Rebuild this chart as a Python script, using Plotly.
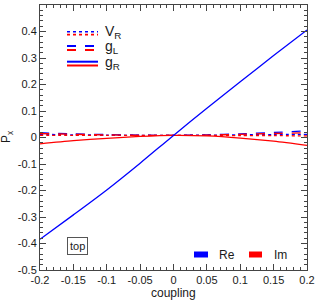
import plotly.graph_objects as go

coupling = [-0.2, -0.15, -0.1, -0.05, 0.0, 0.05, 0.1, 0.15, 0.2]
gR_re = [-0.384, -0.292, -0.198, -0.097, 0.008, 0.110, 0.210, 0.309, 0.406]
gR_im = [-0.024, -0.012, -0.003, 0.004, 0.008, 0.006, -0.002, -0.014, -0.030]
gL_re = [0.018, 0.014, 0.011, 0.009, 0.008, 0.010, 0.014, 0.019, 0.025]
gL_im = [0.015, 0.012, 0.010, 0.008, 0.008, 0.009, 0.012, 0.015, 0.018]
VR_re = [0.012, 0.010, 0.009, 0.008, 0.008, 0.009, 0.010, 0.011, 0.012]
VR_im = [0.008, 0.008, 0.008, 0.008, 0.008, 0.008, 0.007, 0.007, 0.006]

x_ticks = [-0.2, -0.15, -0.1, -0.05, 0, 0.05, 0.1, 0.15, 0.2]
x_labels = ["-0.2", "-0.15", "-0.1", "-0.05", "0", "0.05", "0.1", "0.15", "0.2"]
y_ticks = [-0.5, -0.4, -0.3, -0.2, -0.1, 0, 0.1, 0.2, 0.3, 0.4, 0.5]
y_labels = ["-0.5", "-0.4", "-0.3", "-0.2", "-0.1", "0", "0.1", "0.2", "0.3", "0.4", "0.5"]

BLUE = "#0000ff"
RED = "#ff0000"
FONT = "Liberation Sans"
TXT = "#1a1a1a"

fig = go.Figure()
series = [
    (VR_re, BLUE, "dot"), (VR_im, RED, "dot"),
    (gL_re, BLUE, "dash"), (gL_im, RED, "dash"),
    (gR_im, RED, "solid"), (gR_re, BLUE, "solid"),
]
for ys, c, d in series:
    fig.add_trace(go.Scatter(x=coupling, y=ys, mode="lines",
                             line=dict(color=c, dash=d, width=1.3, shape="spline", smoothing=0.8),
                             showlegend=False))

W, H = 315, 300
L, R, T, B = 40, 8, 5, 30
pw, ph = W - L - R, H - T - B
def px(x): return (x - L) / pw
def py(y): return 1 - (y - T) / ph

legend_rows = [
    ("V<sub>R</sub>", "dot", 31.7, 34.6),
    ("g<sub>L</sub>", "dash", 46.0, 50.0),
    ("g<sub>R</sub>", "solid", 61.7, 65.5),
]
for label, d, yb, yr in legend_rows:
    for yy, c in ((yb, BLUE), (yr, RED)):
        fig.add_shape(type="line", xref="paper", yref="paper",
                      x0=px(67), x1=px(98), y0=py(yy), y1=py(yy),
                      line=dict(color=c, dash=d, width=2 if d != "dot" else 1.6))
    fig.add_annotation(xref="paper", yref="paper", x=px(103), y=py((yb + yr) / 2 - 1),
                       text=label, showarrow=False, xanchor="left", yanchor="middle",
                       font=dict(family=FONT, size=14, color=TXT))

fig.add_annotation(xref="paper", yref="paper", x=px(77.5), y=py(245.5), text="top",
                   showarrow=False, xanchor="center", yanchor="middle",
                   font=dict(family=FONT, size=11, color=TXT),
                   bordercolor="#555", borderwidth=1, borderpad=2, bgcolor="white")

for x0, x1, c, lab, tx in ((194, 208, BLUE, "Re", 217), (249, 262, RED, "Im", 272)):
    fig.add_shape(type="rect", xref="paper", yref="paper",
                  x0=px(x0), x1=px(x1), y0=py(257.5), y1=py(251.5),
                  line=dict(width=0), fillcolor=c)
    fig.add_annotation(xref="paper", yref="paper", x=px(tx), y=py(254.5), text=lab,
                       showarrow=False, xanchor="left", yanchor="middle",
                       font=dict(family=FONT, size=12, color=TXT))

fig.add_annotation(xref="paper", yref="paper", x=px(173), y=py(292.5), text="coupling",
                   showarrow=False, xanchor="center", yanchor="middle",
                   font=dict(family=FONT, size=12, color=TXT))
fig.add_annotation(xref="paper", yref="paper", x=px(7), y=py(137), text="P<sub>x</sub>",
                   showarrow=False, xanchor="center", yanchor="middle", textangle=-90,
                   font=dict(family=FONT, size=12, color=TXT))

axis_common = dict(showgrid=False, zeroline=False, showline=True, linecolor="#444",
                   linewidth=1, mirror="allticks", ticks="inside", ticklen=6,
                   tickcolor="#444", automargin=False,
                   tickfont=dict(family=FONT, size=11, color=TXT))
fig.update_xaxes(range=[-0.2, 0.2], tickvals=x_ticks, ticktext=x_labels,
                 minor=dict(dtick=0.01, ticks="inside", ticklen=3, tickcolor="#444"),
                 **axis_common)
fig.update_yaxes(range=[-0.5, 0.5], tickvals=y_ticks, ticktext=y_labels,
                 minor=dict(dtick=0.02, ticks="inside", ticklen=3, tickcolor="#444"),
                 **axis_common)

fig.update_layout(width=W, height=H, margin=dict(l=L, r=R, t=T, b=B, autoexpand=False),
                  plot_bgcolor="white", paper_bgcolor="white", showlegend=False)
fig.write_html("out.html", config={"displayModeBar": False},
               post_script="document.body.style.margin='0';document.body.style.padding='0';")
